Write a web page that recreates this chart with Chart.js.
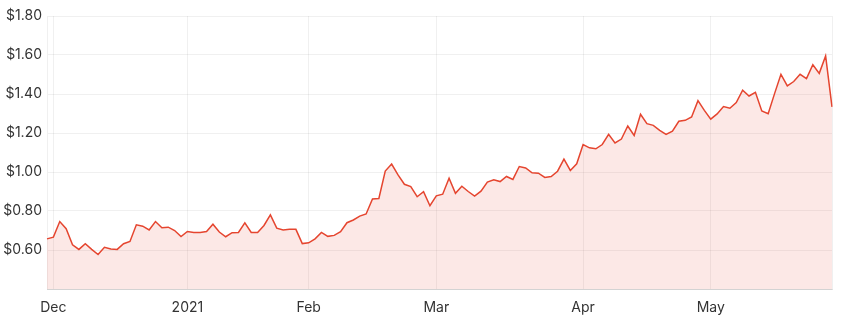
<!DOCTYPE html>
<html>
<head>
<meta charset="utf-8">
<script src="https://cdn.jsdelivr.net/npm/chart.js@4"></script>
<style>
  html, body { margin: 0; padding: 0; background: #fff; }
  #wrap { width: 842px; height: 327px; position: relative; }
</style>
</head>
<body>
<div id="wrap"><canvas id="priceChart"></canvas></div>
<script>
// ===== Share price, trading days 30 Nov 2020 - 28 May 2021 =====

const dates = [
  '2020-11-30',
  '2020-12-01', '2020-12-02', '2020-12-03', '2020-12-04', '2020-12-07', '2020-12-08', '2020-12-09',
  '2020-12-10', '2020-12-11', '2020-12-14', '2020-12-15', '2020-12-16', '2020-12-17', '2020-12-18',
  '2020-12-21', '2020-12-22', '2020-12-23', '2020-12-24', '2020-12-29', '2020-12-30', '2020-12-31',
  '2021-01-04', '2021-01-05', '2021-01-06', '2021-01-07', '2021-01-08', '2021-01-11', '2021-01-12',
  '2021-01-13', '2021-01-14', '2021-01-15', '2021-01-18', '2021-01-19', '2021-01-20', '2021-01-21',
  '2021-01-22', '2021-01-25', '2021-01-27', '2021-01-28', '2021-01-29',
  '2021-02-01', '2021-02-02', '2021-02-03', '2021-02-04', '2021-02-05', '2021-02-08', '2021-02-09',
  '2021-02-10', '2021-02-11', '2021-02-12', '2021-02-15', '2021-02-16', '2021-02-17', '2021-02-18',
  '2021-02-19', '2021-02-22', '2021-02-23', '2021-02-24', '2021-02-25', '2021-02-26',
  '2021-03-01', '2021-03-02', '2021-03-03', '2021-03-04', '2021-03-05', '2021-03-08', '2021-03-09',
  '2021-03-10', '2021-03-11', '2021-03-12', '2021-03-15', '2021-03-16', '2021-03-17', '2021-03-18',
  '2021-03-19', '2021-03-22', '2021-03-23', '2021-03-24', '2021-03-25', '2021-03-26', '2021-03-29',
  '2021-03-30', '2021-03-31',
  '2021-04-01', '2021-04-06', '2021-04-07', '2021-04-08', '2021-04-09', '2021-04-12', '2021-04-13',
  '2021-04-14', '2021-04-15', '2021-04-16', '2021-04-19', '2021-04-20', '2021-04-21', '2021-04-22',
  '2021-04-23', '2021-04-26', '2021-04-27', '2021-04-28', '2021-04-29', '2021-04-30',
  '2021-05-03', '2021-05-04', '2021-05-05', '2021-05-06', '2021-05-07', '2021-05-10', '2021-05-11',
  '2021-05-12', '2021-05-13', '2021-05-14', '2021-05-17', '2021-05-18', '2021-05-19', '2021-05-20',
  '2021-05-21', '2021-05-24', '2021-05-25', '2021-05-26', '2021-05-27', '2021-05-28',
];

const prices = [
  0.657,
  0.666, 0.746, 0.709, 0.627, 0.603, 0.632, 0.603, 0.577, 0.614, 0.605, 0.603, 0.632, 0.644, 0.729,
  0.722, 0.703, 0.746, 0.714, 0.717, 0.700, 0.669,
  0.695, 0.690, 0.690, 0.695, 0.732, 0.692, 0.668, 0.689, 0.690, 0.739, 0.690, 0.690, 0.726, 0.780,
  0.712, 0.703, 0.706, 0.706, 0.633,
  0.637, 0.657, 0.690, 0.670, 0.675, 0.694, 0.740, 0.754, 0.774, 0.785, 0.862, 0.864, 1.005, 1.041,
  0.985, 0.937, 0.925, 0.873, 0.899, 0.827,
  0.878, 0.886, 0.968, 0.891, 0.927, 0.900, 0.876, 0.902, 0.948, 0.960, 0.951, 0.977, 0.962, 1.028,
  1.021, 0.996, 0.994, 0.972, 0.977, 1.004, 1.066, 1.008, 1.042,
  1.141, 1.124, 1.119, 1.141, 1.193, 1.149, 1.169, 1.236, 1.187, 1.296, 1.248, 1.239, 1.214, 1.193,
  1.210, 1.260, 1.265, 1.282, 1.366, 1.316,
  1.271, 1.298, 1.336, 1.327, 1.356, 1.420, 1.390, 1.409, 1.313, 1.299, 1.402, 1.501, 1.442, 1.464,
  1.501, 1.479, 1.550, 1.506, 1.595, 1.334,
];

// x-axis labels sit on the first trading day of each month
const tickDates = ['2020-12-01', '2021-01-04', '2021-02-01', '2021-03-01', '2021-04-01', '2021-05-03'];
const tickLabels = ['Dec', '2021', 'Feb', 'Mar', 'Apr', 'May'];

const Y_MIN = 0.4;
const Y_MAX = 1.8;
const Y_STEP = 0.2;

const LINE_COLOR = '#e5452f';
const FILL_COLOR = 'rgba(231, 76, 60, 0.13)';
const TEXT_COLOR = '#333333';
const GRID_COLOR = 'rgba(0, 0, 0, 0.06)';

Chart.defaults.font.family = 'Inter, "Noto Sans", sans-serif';

const ctx = document.getElementById('priceChart').getContext('2d');
const priceChart = new Chart(ctx, {
  type: 'line',
  data: {
    labels: dates,
    datasets: [{
      data: prices,
      borderColor: LINE_COLOR,
      backgroundColor: FILL_COLOR,
      borderWidth: 1.5,
      pointRadius: 0,
      tension: 0,
      fill: 'start',
    }],
  },
  options: {
    responsive: true,
    maintainAspectRatio: false,
    animation: false,
    layout: { padding: { top: 16, right: 10 } },
    plugins: {
      legend: { display: false },
      tooltip: { enabled: false },
    },
    scales: {
      x: {
        grid: { color: GRID_COLOR, drawTicks: false },
        border: { color: 'rgba(0, 0, 0, 0.12)' },
        afterFit: (scale) => { scale.height = 38; },
        ticks: {
          autoSkip: false,
          maxRotation: 0,
          padding: 10,
          color: TEXT_COLOR,
          font: { size: 14 },
          callback: (v, i) => {
            const k = tickDates.indexOf(dates[i]);
            if (k >= 0) return tickLabels[k];
            return i === dates.length - 1 ? '' : null;
          },
        },
      },
      y: {
        min: Y_MIN,
        max: Y_MAX,
        grid: { color: GRID_COLOR, drawTicks: false },
        border: { color: GRID_COLOR },
        afterFit: (scale) => { scale.width = 47; },
        ticks: {
          stepSize: Y_STEP,
          padding: 5,
          color: TEXT_COLOR,
          font: { size: 14 },
          callback: (v) => (Math.abs(v - Y_MIN) < 1e-6 ? '' : '$' + v.toFixed(2)),
        },
      },
    },
  },
});
</script>
</body>
</html>
